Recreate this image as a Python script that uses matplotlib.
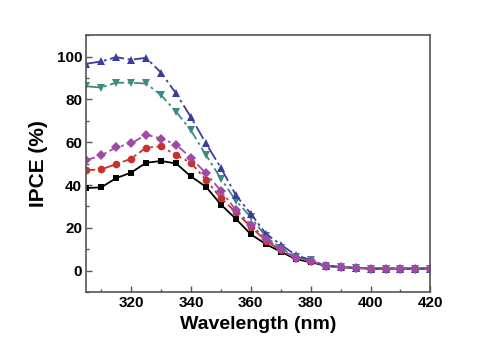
import numpy as np
import matplotlib
matplotlib.use("Agg")
import matplotlib.pyplot as plt
from matplotlib.ticker import MultipleLocator

plt.rcParams["font.family"] = ["Liberation Sans", "DejaVu Sans"]
plt.rcParams["font.weight"] = "bold"

# wavelength (nm) and IPCE (%)
wavelength = list(range(305, 421, 5))
tail = [2.3, 1.7, 1.3, 1.0, 1.0, 1.0, 1.0, 1.0]  # 385..420 nm, all samples overlap
ipce_black = [38.6, 38.9, 43.2, 45.8, 50.4, 51.2, 50.1, 44.0, 39.2, 30.9, 24.2,
              17.0, 12.4, 8.9, 5.4, 4.0] + tail
ipce_red = [46.9, 47.3, 49.7, 52.3, 57.4, 58.1, 54.0, 50.4, 42.4, 33.9, 27.3,
            20.5, 14.0, 9.6, 5.8, 4.5] + tail
ipce_purple = [51.6, 53.8, 57.6, 59.4, 63.5, 61.7, 58.9, 52.7, 45.5, 37.3, 28.4,
               21.5, 15.0, 10.0, 5.9, 4.6] + tail
ipce_teal = [86.1, 85.5, 87.8, 87.7, 87.4, 82.0, 74.3, 65.5, 54.0, 43.0, 32.7,
             25.0, 16.0, 10.5, 6.5, 4.8] + tail
ipce_blue = [96.6, 97.7, 99.7, 98.5, 99.4, 92.5, 82.8, 71.7, 59.5, 48.0, 35.3,
             26.6, 17.3, 12.2, 7.3, 5.0] + tail

# purple last so it sits on top in the flat tail, like the reference
series = [
    (ipce_black, "black", "s", "-", 5.0),
    (ipce_red, "#c8302c", "o", (0, (5, 2, 1.5, 2)), 5.5),
    (ipce_teal, "#3d8a83", "v", (0, (8, 2, 1.5, 2)), 6.0),
    (ipce_blue, "#3c3c9c", "^", (0, (8, 2, 1.5, 2)), 6.0),
    (ipce_purple, "#a04aa8", "D", (0, (5, 2, 1.5, 2, 1.5, 2)), 5.0),
]

fig = plt.figure(figsize=(5.04, 3.58), dpi=100)
ax = fig.add_axes([0.171, 0.184, 0.683, 0.718])

for y, c, m, ls, ms in series:
    ax.plot(wavelength, y, color=c, marker=m, linestyle=ls, linewidth=1.3,
            markersize=ms, markeredgewidth=0)

ax.set_xlim(305, 420)
ax.set_ylim(-10, 110)
ax.xaxis.set_minor_locator(MultipleLocator(10))
ax.yaxis.set_minor_locator(MultipleLocator(10))
ax.set_xticks(range(320, 421, 20))
ax.set_yticks(range(0, 101, 20))

for s in ax.spines.values():
    s.set_color("#555555")
    s.set_linewidth(1.2)
ax.tick_params(which="both", direction="in", color="#555555", width=1.0,
               labelsize=11, pad=3)
ax.tick_params(which="major", length=4)
ax.tick_params(which="minor", length=2.5)
ax.tick_params(top=False, right=False, which="both")
for lab in ax.get_xticklabels() + ax.get_yticklabels():
    lab.set_fontweight("bold")

ax.set_xlabel("Wavelength (nm)", fontsize=14, fontweight="bold", labelpad=4)
ax.set_ylabel("IPCE (%)", fontsize=15, fontweight="bold", labelpad=6)

fig.savefig("out.png", dpi=100)
